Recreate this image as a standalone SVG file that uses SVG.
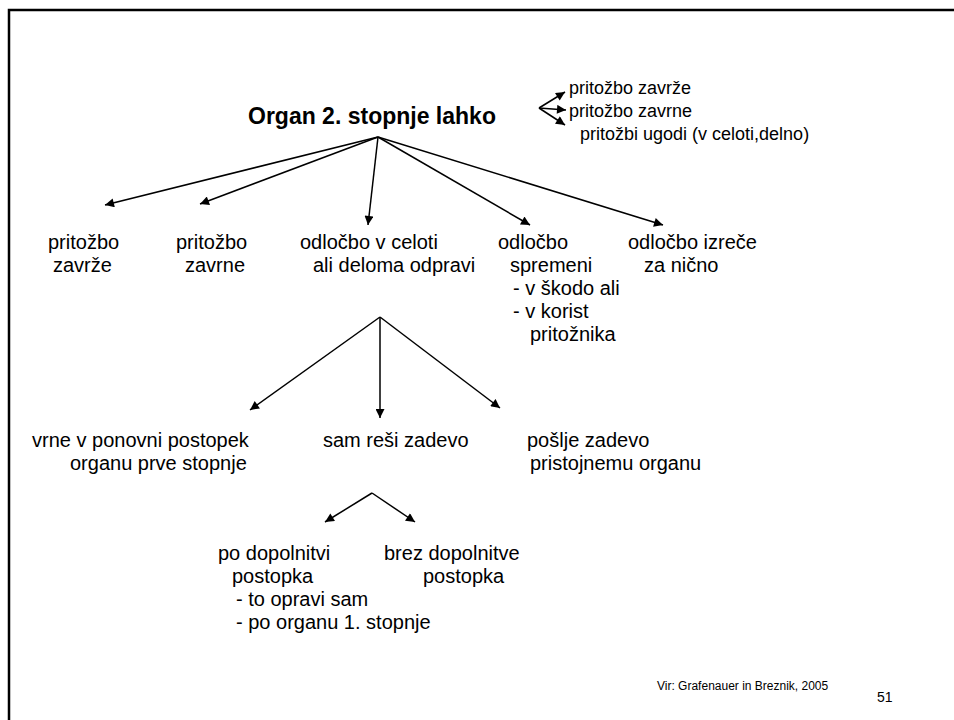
<svg xmlns="http://www.w3.org/2000/svg" width="954" height="720" viewBox="0 0 954 720">
<defs>
<marker id="ah" viewBox="0 0 10 10" refX="10" refY="5" markerWidth="11" markerHeight="9" markerUnits="userSpaceOnUse" orient="auto">
<path d="M0,0 L10,5 L0,10 z" fill="#000"/>
</marker>
<style>
text{font-family:"Liberation Sans",Arial,sans-serif;fill:#000}
.t{font-size:20px}
.s{font-size:18px}
.b{font-size:23px;font-weight:bold}
.c{stroke:#000;stroke-width:1.5;fill:none;marker-end:url(#ah)}
</style>
</defs>
<rect width="954" height="720" fill="#fff"/>
<path d="M9,720 V10 H954" fill="none" stroke="#000" stroke-width="2.5"/>
<g id="title"><text class="b" x="248" y="124">Organ 2. stopnje lahko</text></g>
<g id="options">
<text class="s" x="569" y="94">pritožbo zavrže</text>
<text class="s" x="569" y="117">pritožbo zavrne</text>
<text class="s" x="580" y="140">pritožbi ugodi (v celoti,delno)</text>
</g>
<g id="n1"><text class="t" x="48" y="249">pritožbo</text><text class="t" x="53" y="272">zavrže</text></g>
<g id="n2"><text class="t" x="176" y="249">pritožbo</text><text class="t" x="185" y="272">zavrne</text></g>
<g id="n3"><text class="t" x="300" y="249">odločbo v celoti</text><text class="t" x="313" y="272">ali deloma odpravi</text></g>
<g id="n4"><text class="t" x="498" y="249">odločbo</text><text class="t" x="510" y="272">spremeni</text><text class="t" x="513" y="295">- v škodo ali</text><text class="t" x="513" y="318">- v korist</text><text class="t" x="530" y="341">pritožnika</text></g>
<g id="n5"><text class="t" x="628" y="249">odločbo izreče</text><text class="t" x="644" y="272">za nično</text></g>
<g id="n6"><text class="t" x="32" y="447">vrne v ponovni postopek</text><text class="t" x="70" y="470">organu prve stopnje</text></g>
<g id="n7"><text class="t" x="323" y="447">sam reši zadevo</text></g>
<g id="n8"><text class="t" x="527" y="447">pošlje zadevo</text><text class="t" x="530" y="470">pristojnemu organu</text></g>
<g id="n9"><text class="t" x="218" y="560">po dopolnitvi</text><text class="t" x="232" y="583">postopka</text><text class="t" x="236" y="606">- to opravi sam</text><text class="t" x="236" y="629">- po organu 1. stopnje</text></g>
<g id="n10"><text class="t" x="384" y="560">brez dopolnitve</text><text class="t" x="423" y="583">postopka</text></g>
<g id="source"><text x="657" y="690" font-size="12">Vir: Grafenauer in Breznik, 2005</text><text x="877" y="702" font-size="14">51</text></g>
<g id="connectors">
<path class="c" d="M378,137 L105,205"/>
<path class="c" d="M378,137 L200,204"/>
<path class="c" d="M378,137 L368,225"/>
<path class="c" d="M378,137 L530,225"/>
<path class="c" d="M378,137 L663,225"/>
<path class="c" d="M539,108 L565,92"/>
<path class="c" d="M539,108 L566,110"/>
<path class="c" d="M539,108 L565,125"/>
<path class="c" d="M380,317 L250,410"/>
<path class="c" d="M380,317 L380,418"/>
<path class="c" d="M380,317 L500,408"/>
<path class="c" d="M372,493 L325,522"/>
<path class="c" d="M372,493 L415,522"/>
</g>
</svg>
